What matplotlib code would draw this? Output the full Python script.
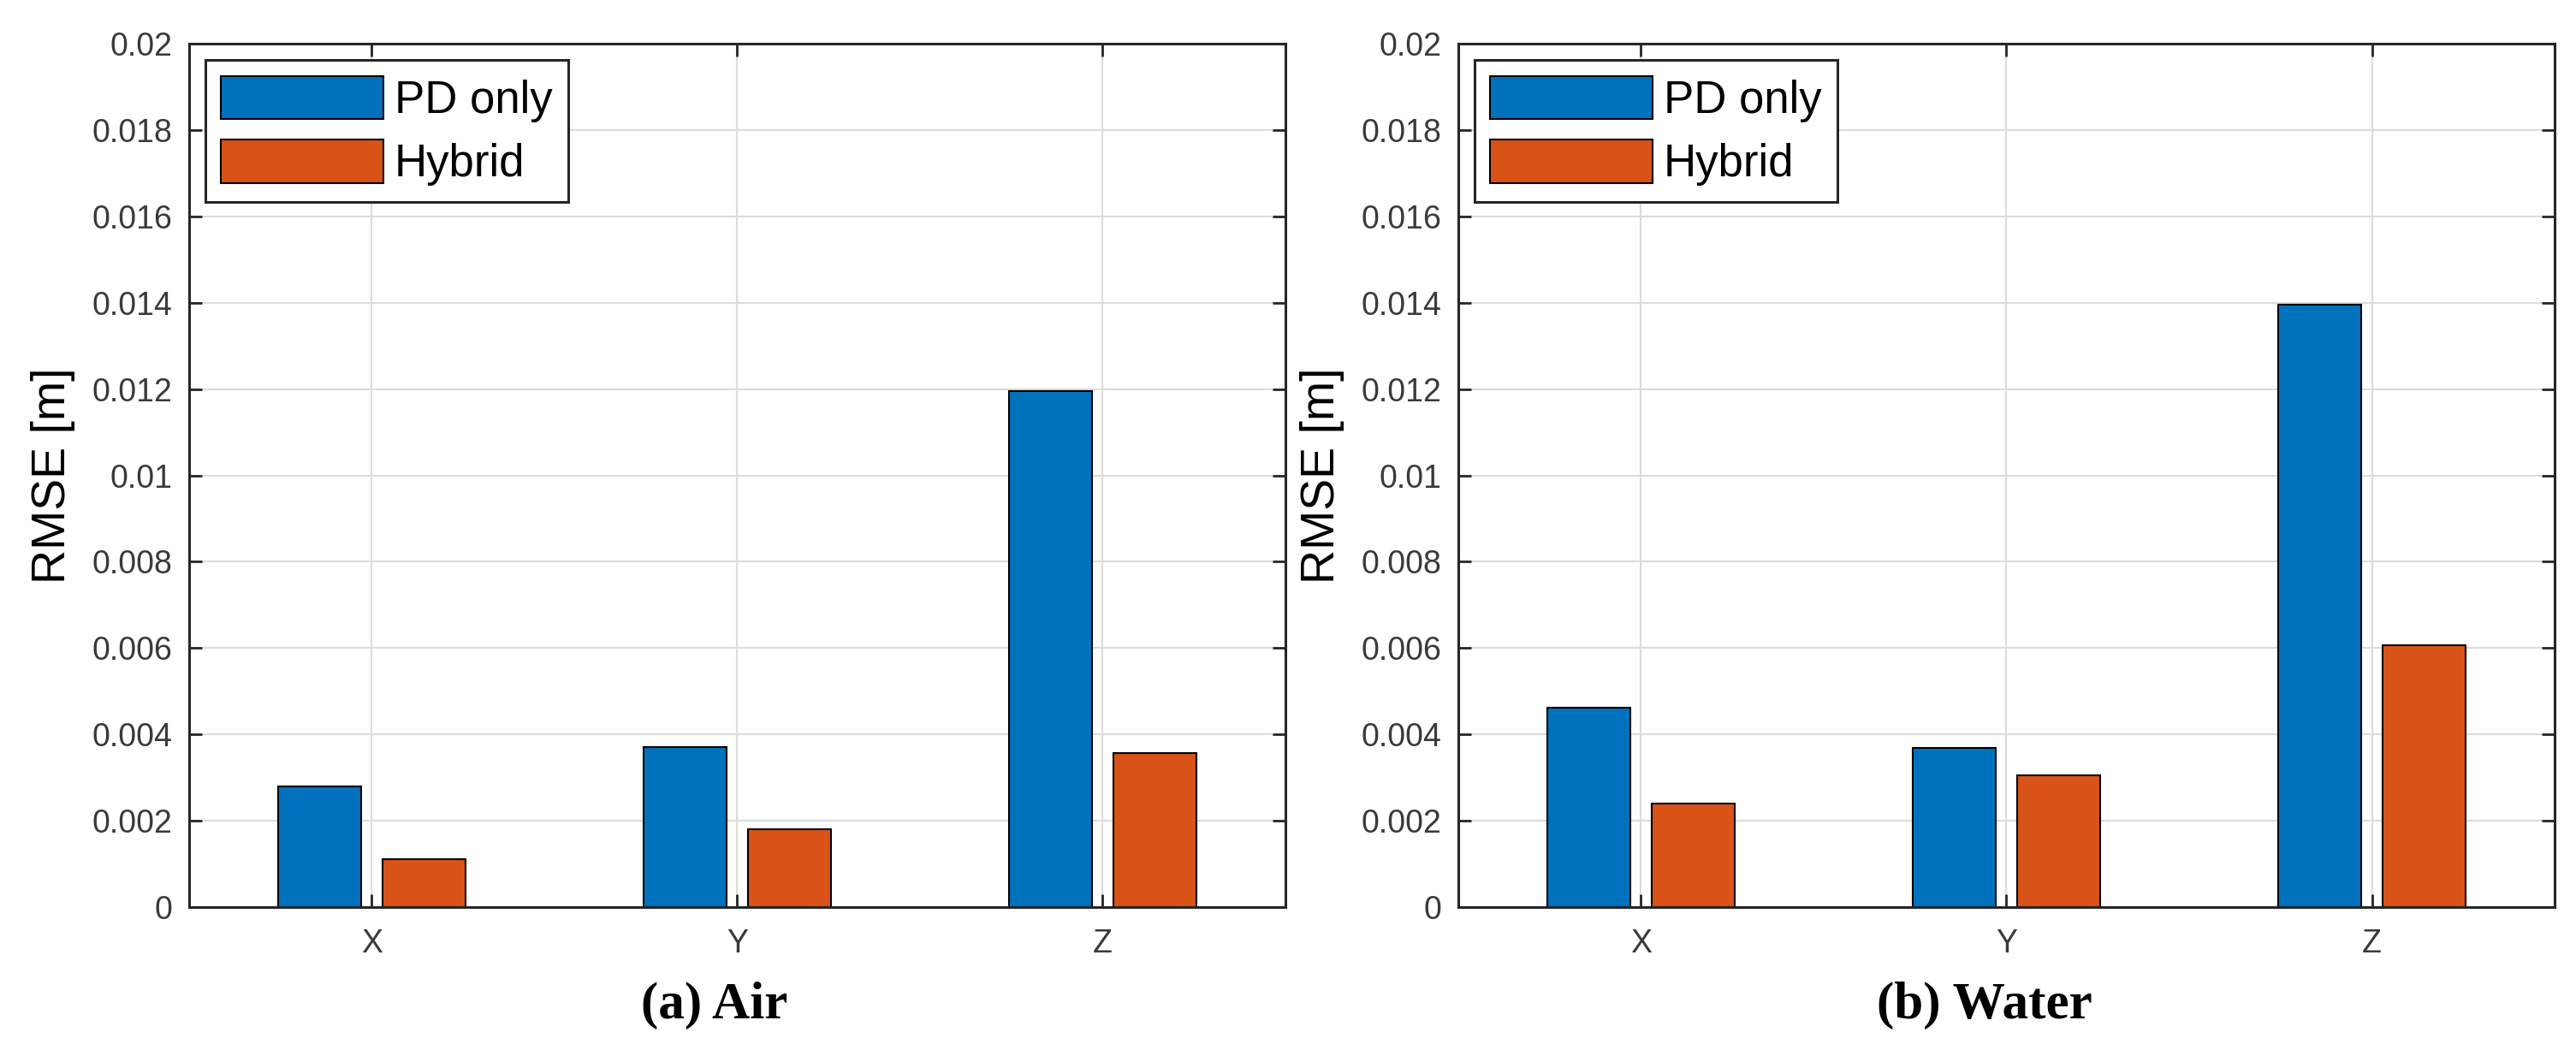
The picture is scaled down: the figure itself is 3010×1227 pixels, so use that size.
import numpy as np
import matplotlib
matplotlib.use('Agg')
import matplotlib.pyplot as plt

# RMSE values
axes_labels = ['X', 'Y', 'Z']
series_names = ['PD only', 'Hybrid']
air_pd = [0.0028, 0.0037, 0.01195]
air_hybrid = [0.00112, 0.0018, 0.00356]
water_pd = [0.00462, 0.00368, 0.01395]
water_hybrid = [0.0024, 0.00306, 0.00607]
captions = ['(a) Air', '(b) Water']

colors = ['#0072BD', '#D95319']
axis_col = '#262626'

plt.rcParams['font.family'] = ['Liberation Sans', 'DejaVu Sans']

fig = plt.figure(figsize=(30.1, 12.27), dpi=100)
ax_l = fig.add_axes([0.0734, 0.1361, 0.4256, 0.8223])
ax_r = fig.add_axes([0.5661, 0.1361, 0.4256, 0.8223])

x = np.arange(1, len(axes_labels) + 1)
group_w = 2 / 3.5
bar_w = group_w / 2 * 0.8
offsets = [-group_w / 4, group_w / 4]

panels = [(ax_l, [air_pd, air_hybrid]), (ax_r, [water_pd, water_hybrid])]
for ax, series in panels:
    for i, vals in enumerate(series):
        ax.bar(x + offsets[i], vals, width=bar_w, color=colors[i],
               edgecolor='black', linewidth=1.5, label=series_names[i], zorder=3)
    ax.set_xlim(0.5, 3.5)
    ax.set_ylim(0, 0.02)
    ax.set_xticks(x)
    ax.set_xticklabels(axes_labels)
    yt = np.arange(0, 0.0201, 0.002)
    ax.set_yticks(yt)
    ax.set_yticklabels(['%g' % round(v, 3) for v in yt])
    ax.grid(True, color='#dcdcdc', linewidth=1.5, zorder=0)
    ax.set_axisbelow(True)
    for s in ax.spines.values():
        s.set_color(axis_col)
        s.set_linewidth(2.2)
        s.set_zorder(4)
    ax.tick_params(direction='in', length=11, width=2, color=axis_col,
                   labelcolor='#3a3a3a', labelsize=27, top=True, right=True, pad=14)
    ax.tick_params(axis='x', pad=18)
    ax.set_ylabel('RMSE [m]', fontsize=40, color='black', labelpad=14)
    leg = ax.legend(loc='upper left', bbox_to_anchor=(0, 1), borderaxespad=0.36,
                    fontsize=38, handlelength=3.6, handleheight=1.1,
                    handletextpad=0.24, labelspacing=0.38, borderpad=0.35,
                    fancybox=False, framealpha=1, edgecolor=axis_col)
    leg.get_frame().set_linewidth(2.2)

fig.text(835 / 3010, 1 - 1175 / 1227, captions[0], ha='center', va='center',
         fontsize=44, fontweight='bold', family=['Liberation Serif', 'DejaVu Serif'])
fig.text(2319 / 3010, 1 - 1175 / 1227, captions[1], ha='center', va='center',
         fontsize=44, fontweight='bold', family=['Liberation Serif', 'DejaVu Serif'])

fig.savefig('out.png', dpi=100, facecolor='white')
